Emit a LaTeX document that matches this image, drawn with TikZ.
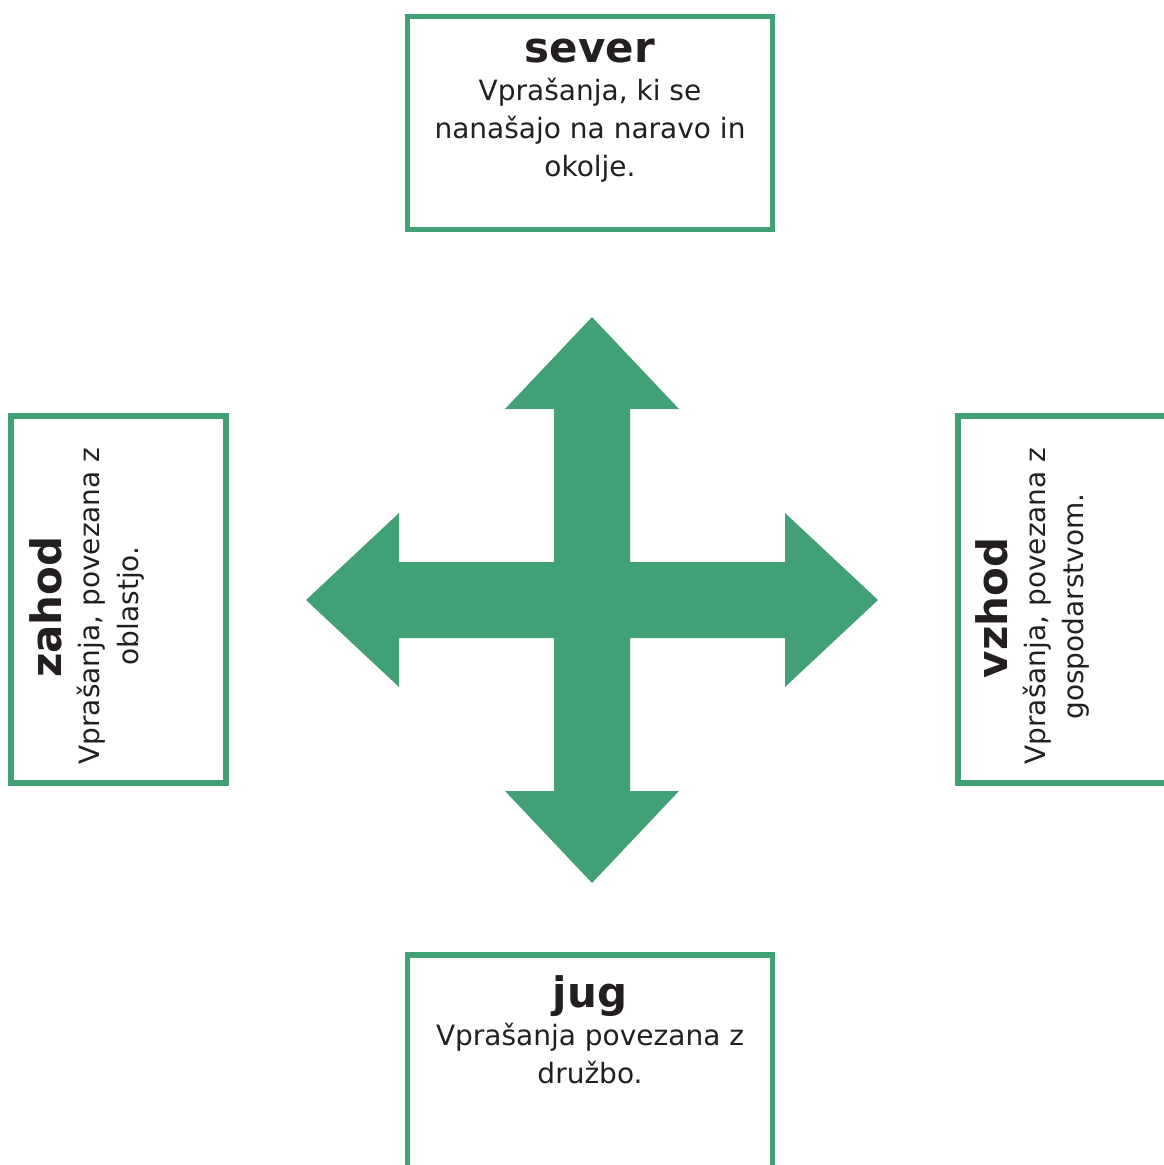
\documentclass[tikz,border=0pt]{standalone}
\usepackage{fontspec}
\setmainfont{DejaVu Sans}
\definecolor{kgreen}{RGB}{65,160,118}
\definecolor{ktext}{RGB}{35,31,32}
\begin{document}
\begin{tikzpicture}[x=1pt,y=-1pt,
  box/.style={draw=kgreen,line width=5.5pt},
  ttl/.style={anchor=base,inner sep=0pt,text=ktext,font=\fontsize{42}{50}\selectfont\bfseries},
  txt/.style={anchor=base,inner sep=0pt,text=ktext,font=\fontsize{28}{38}\selectfont}]
\useasboundingbox (0,0) rectangle (1164,1165);
\clip (0,0) rectangle (1164,1165);
% boxes
\draw[box] (407.5,16.5) rectangle (772.5,229.5);
\draw[box] (11,416) rectangle (226,783);
\draw[box] (958,416) rectangle (1180,783);
\draw[box] (407.5,955) rectangle (772.5,1185);
% arrow
\fill[kgreen] (592,317) -- (679,409) -- (630,409) -- (630,562) -- (785,562) -- (785,513)
  -- (878,600) -- (785,687) -- (785,638) -- (630,638) -- (630,791) -- (679,791)
  -- (592,883) -- (505,791) -- (554,791) -- (554,638) -- (399,638) -- (399,687)
  -- (306,600) -- (399,513) -- (399,562) -- (554,562) -- (554,409) -- (505,409) -- cycle;
% north
\node[ttl] (nT) at (590,62) {sever};
\node[txt] (n1) at (590,100) {Vprašanja, ki se};
\node[txt] (n2) at (590,138) {nanašajo na naravo in};
\node[txt] (n3) at (590,176.5) {okolje.};
% south
\node[ttl] (sT) at (590,1007) {jug};
\node[txt] (s1) at (590,1045) {Vprašanja povezana z};
\node[txt] (s2) at (590,1083) {družbo.};
% west
\node[ttl,rotate=90] (wT) at (61,607) {zahod};
\node[txt,rotate=90] (w1) at (99,606) {Vprašanja, povezana z};
\node[txt,rotate=90] (w2) at (138,606) {oblastjo.};
% east
\node[ttl,rotate=90] (eT) at (1007,608) {vzhod};
\node[txt,rotate=90] (e1) at (1045,606) {Vprašanja, povezana z};
\node[txt,rotate=90] (e2) at (1083,606.5) {gospodarstvom.};
\end{tikzpicture}
\end{document}
